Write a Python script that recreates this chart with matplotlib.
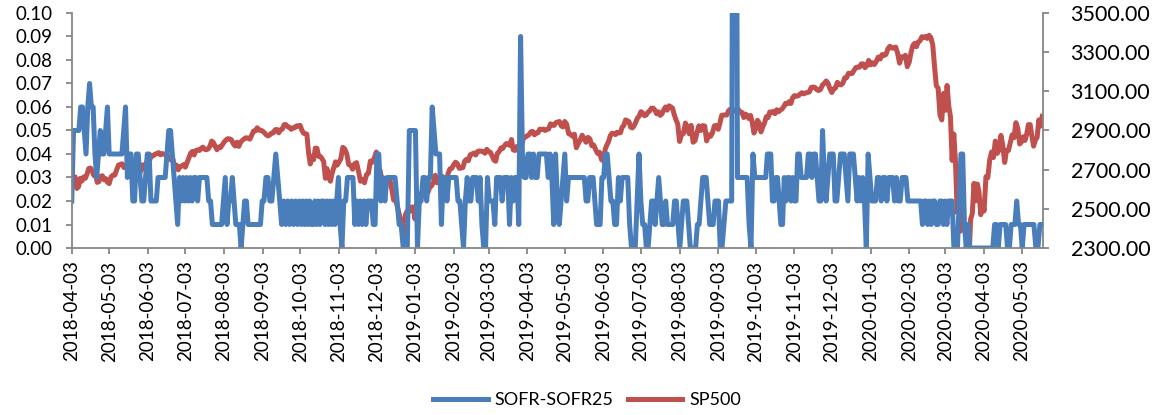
import matplotlib
matplotlib.use("Agg")
import matplotlib.pyplot as plt
import matplotlib.dates as mdates
from matplotlib.ticker import MultipleLocator, FixedLocator, FormatStrFormatter
import pandas as pd

plt.rcParams['font.family'] = ['Lato', 'DejaVu Sans']

# SOFR-SOFR25 spread, in basis points (0.01 = 1), one list per chunk of about a month
blue_starts = ['2018-04-03', '2018-05-03', '2018-06-04', '2018-07-04', '2018-08-04',
               '2018-09-04', '2018-10-04', '2018-11-04', '2018-12-05', '2019-01-05',
               '2019-02-05', '2019-03-05', '2019-04-05', '2019-05-06', '2019-06-06',
               '2019-07-06', '2019-08-06', '2019-09-06', '2019-10-07', '2019-11-07',
               '2019-12-07', '2020-01-07', '2020-02-08', '2020-03-07', '2020-04-07',
               '2020-05-08']
blue_chunks = [
    [2, 5, 5, 5, 5, 6, 6, 5, 4, 6, 7, 6, 6, 4, 3, 4, 5, 4, 4, 5, 6],
    [4, 4, 4, 4, 4, 4, 4, 4, 5, 6, 3, 4, 4, 2, 2, 4, 4, 3, 2, 2, 3, 4],
    [4, 2, 2, 2, 2, 3, 3, 3, 3, 3, 4, 5, 5, 4, 3, 2, 1, 3, 2, 3, 2],
    [3, 2, 3, 2, 3, 3, 2, 3, 3, 3, 3, 3, 2, 2, 1, 1, 1, 1, 1, 1, 2],
    [3, 1, 2, 2, 3, 2, 1, 1, 1, 0, 1, 2, 2, 1, 1, 1, 1, 1, 1, 1, 1, 2],
    [2, 3, 3, 2, 2, 3, 4, 3, 2, 1, 2, 1, 2, 1, 2, 1, 2, 1, 2],
    [1, 2, 1, 2, 1, 2, 1, 1, 2, 1, 2, 1, 2, 2, 1, 2, 1, 2, 1, 2, 1, 2, 3],
    [1, 0, 2, 2, 3, 3, 3, 3, 1, 2, 1, 2, 1, 2, 1, 2, 2, 2, 1, 1, 4],
    [4, 2, 3, 2, 3, 3, 3, 3, 3, 2, 1, 1, 0, 0, 0, 5, 5, 5, 5],
    [0, 2, 2, 3, 3, 2, 3, 3, 6, 5, 4, 4, 4, 1, 3, 3, 2, 3, 3, 3, 3],
    [3, 2, 2, 1, 0, 2, 3, 2, 2, 3, 3, 3, 2, 3, 1, 0, 0, 3, 2],
    [2, 2, 1, 3, 3, 3, 2, 3, 3, 3, 1, 3, 2, 3, 3, 1, 9, 4, 3, 3, 4],
    [4, 3, 4, 3, 3, 4, 4, 4, 4, 4, 3, 4, 3, 1, 4, 2, 1, 2, 3, 4, 2],
    [3, 3, 3, 3, 3, 3, 3, 3, 3, 3, 2, 2, 3, 3, 3, 2, 1, 1, 1, 3, 3, 4],
    [4, 3, 2, 2, 1, 1, 3, 2, 3, 3, 3, 3, 1, 0, 0, 0, 2, 4, 2, 1],
    [1, 0, 0, 1, 2, 2, 1, 2, 3, 2, 1, 1, 2, 1, 1, 1, 1, 2, 2, 1, 0, 1],
    [2, 2, 2, 1, 0, 0, 0, 0, 1, 1, 2, 3, 3, 3, 2, 1, 1, 1, 2, 2, 2, 0],
    [0, 1, 2, 2, 2, 2, 30, 30, 3, 3, 3, 3, 3, 3, 1, 0, 4, 3, 3, 3],
    [3, 3, 3, 3, 4, 4, 4, 2, 2, 3, 3, 2, 1, 1, 3, 2, 3, 3, 2, 3, 2, 2, 4],
    [4, 3, 3, 3, 3, 4, 4, 3, 4, 4, 3, 2, 2, 5, 3, 2, 3, 4, 4, 4, 2],
    [2, 3, 4, 4, 4, 3, 2, 4, 4, 4, 3, 2, 3, 2, 3, 2, 0, 4, 3, 2, 2],
    [2, 3, 3, 2, 3, 3, 2, 3, 3, 3, 2, 3, 2, 2, 3, 3, 3, 2, 2, 2, 2],
    [2, 2, 2, 2, 1, 2, 2, 1, 2, 1, 2, 2, 1, 1, 2, 2, 1, 2, 1, 2],
    [2, 2, 0, 0, 0, 2, 4, 4, 1, 0, 1, 0, 0, 0, 0, 0, 0, 0, 0, 0, 0, 0],
    [0, 0, 0, 1, 1, 0, 1, 1, 1, 1, 0, 0, 1, 1, 1, 2, 1, 1, 0, 1, 1],
    [1, 1, 1, 1, 0, 0, 1, 1],
]

# S&P 500 close, one list per month (3rd of month to the 2nd of the next)
sp_starts = ['2018-04-03', '2018-05-03', '2018-06-03', '2018-07-03', '2018-08-03',
             '2018-09-03', '2018-10-03', '2018-11-03', '2018-12-03', '2019-01-03',
             '2019-02-03', '2019-03-03', '2019-04-03', '2019-05-03', '2019-06-03',
             '2019-07-03', '2019-08-03', '2019-09-03', '2019-10-03', '2019-11-03',
             '2019-12-03', '2020-01-03', '2020-02-03', '2020-03-03', '2020-04-03',
             '2020-05-03']
sp_chunks = [
    [2614, 2645, 2663, 2604, 2613, 2656, 2642, 2663, 2656, 2678, 2706, 2708, 2693, 2670, 2670, 2635, 2639, 2666, 2669, 2648, 2654, 2636],
    [2629, 2663, 2672, 2672, 2697, 2723, 2727, 2730, 2711, 2722, 2720, 2712, 2733, 2725, 2733, 2727, 2721, 2690, 2724, 2705, 2735],
    [2747, 2749, 2772, 2771, 2779, 2782, 2787, 2776, 2782, 2780, 2774, 2762, 2767, 2749, 2755, 2717, 2723, 2699, 2716, 2718, 2726],
    [2713, 2736, 2760, 2784, 2793, 2775, 2798, 2801, 2798, 2809, 2815, 2804, 2802, 2806, 2820, 2846, 2838, 2819, 2802, 2816, 2813, 2827],
    [2840, 2851, 2858, 2857, 2853, 2833, 2821, 2840, 2819, 2840, 2850, 2858, 2863, 2861, 2856, 2875, 2897, 2898, 2914, 2901, 2902],
    [2896, 2888, 2878, 2872, 2878, 2887, 2888, 2904, 2905, 2888, 2904, 2907, 2930, 2930, 2919, 2916, 2906, 2914, 2914, 2924, 2923],
    [2926, 2902, 2886, 2884, 2881, 2786, 2729, 2768, 2751, 2810, 2809, 2768, 2768, 2756, 2741, 2656, 2705, 2659, 2641, 2682, 2712, 2740, 2723],
    [2738, 2755, 2814, 2806, 2781, 2726, 2722, 2702, 2730, 2736, 2690, 2641, 2649, 2633, 2674, 2682, 2744, 2738, 2760],
    [2790, 2700, 2696, 2633, 2637, 2636, 2651, 2650, 2600, 2545, 2546, 2507, 2467, 2417, 2351, 2468, 2489, 2486, 2507, 2510],
    [2448, 2532, 2550, 2574, 2585, 2596, 2596, 2583, 2610, 2617, 2636, 2671, 2633, 2639, 2642, 2665, 2644, 2641, 2681, 2704, 2707],
    [2725, 2738, 2731, 2707, 2708, 2710, 2744, 2753, 2746, 2776, 2780, 2785, 2775, 2793, 2796, 2794, 2793, 2784, 2804],
    [2792, 2789, 2771, 2749, 2743, 2784, 2792, 2811, 2808, 2822, 2833, 2832, 2824, 2854, 2801, 2798, 2818, 2806, 2815, 2834, 2867, 2867],
    [2873, 2879, 2893, 2895, 2878, 2888, 2888, 2907, 2905, 2907, 2900, 2905, 2908, 2934, 2927, 2926, 2940, 2943, 2946, 2924, 2918],
    [2946, 2932, 2884, 2880, 2871, 2881, 2812, 2834, 2851, 2876, 2860, 2840, 2865, 2857, 2822, 2826, 2802, 2783, 2789, 2752],
    [2744, 2804, 2826, 2843, 2873, 2886, 2885, 2879, 2891, 2887, 2889, 2917, 2926, 2954, 2950, 2945, 2917, 2913, 2924, 2942, 2964, 2973],
    [2996, 2990, 2976, 2979, 2993, 3000, 3014, 3014, 3004, 2985, 2995, 2977, 2985, 3005, 3020, 3004, 3026, 3021, 3014, 2980, 2954, 2932],
    [2844, 2881, 2884, 2938, 2919, 2883, 2926, 2840, 2848, 2889, 2924, 2900, 2925, 2923, 2847, 2878, 2870, 2888, 2924, 2926],
    [2906, 2938, 2977, 2979, 2979, 2979, 3000, 3009, 3007, 2998, 3006, 3006, 3006, 2992, 2992, 2966, 2984, 2977, 2961, 2977, 2940, 2887],
    [2910, 2952, 2938, 2893, 2919, 2938, 2970, 2966, 2995, 2990, 2998, 2986, 3006, 2996, 3004, 3010, 3023, 3039, 3036, 3047, 3038, 3067],
    [3078, 3075, 3077, 3085, 3093, 3087, 3092, 3094, 3097, 3120, 3122, 3120, 3108, 3104, 3110, 3133, 3140, 3153, 3141, 3113],
    [3094, 3113, 3117, 3146, 3135, 3133, 3142, 3169, 3169, 3192, 3192, 3191, 3206, 3221, 3224, 3223, 3240, 3240, 3221, 3231, 3258],
    [3235, 3246, 3237, 3253, 3275, 3265, 3288, 3283, 3289, 3317, 3330, 3321, 3321, 3326, 3295, 3244, 3276, 3273, 3284, 3226],
    [3249, 3298, 3334, 3345, 3328, 3352, 3358, 3379, 3374, 3380, 3370, 3386, 3373, 3338, 3226, 3128, 3116, 2979, 2954, 3090],
    [3003, 3130, 3024, 2972, 2747, 2882, 2741, 2481, 2711, 2386, 2529, 2398, 2409, 2305, 2237, 2447, 2476, 2630, 2541, 2627, 2585, 2470, 2527],
    [2489, 2664, 2659, 2750, 2790, 2762, 2846, 2783, 2800, 2875, 2823, 2737, 2799, 2798, 2837, 2878, 2863, 2940, 2912, 2831],
    [2842, 2868, 2849, 2882, 2930, 2930, 2870, 2820, 2852, 2864, 2954, 2923, 2972],
]
end_date = '2020-05-21'
sp_ticks = [2300, 2500, 2700, 2900, 3100, 3300, 3500]


def to_series(starts, chunks, end):
    dates, vals = [], []
    bounds = list(starts) + [end]
    for i, chunk in enumerate(chunks):
        d = pd.date_range(bounds[i], bounds[i + 1], periods=len(chunk) + 1)[:-1]
        dates.extend(d)
        vals.extend(chunk)
    return pd.Series(vals, index=pd.DatetimeIndex(dates))


sofr = to_series(blue_starts, blue_chunks, end_date) / 100.0
spx = to_series(sp_starts, sp_chunks, end_date)

grey = '#868686'
fig = plt.figure(figsize=(11.63, 4.15), dpi=100)
ax = fig.add_axes([0.0617, 0.4024, 0.8349, 0.5663])
ax2 = ax.twinx()

l2, = ax2.plot(spx.index, spx.values, color='#C0504D', lw=3.6, solid_joinstyle='round', label='SP500')
l1, = ax.plot(sofr.index, sofr.values, color='#4A7EBB', lw=3.6, solid_joinstyle='round', label='SOFR-SOFR25')
ax.set_zorder(ax2.get_zorder() + 1)
ax.patch.set_visible(False)

ax.set_ylim(0, 0.10)
ax.yaxis.set_major_locator(MultipleLocator(0.01))
ax.yaxis.set_major_formatter(FormatStrFormatter('%.2f'))
ax2.set_ylim(2300, 3500)
ax2.yaxis.set_major_locator(FixedLocator(sp_ticks))
ax2.yaxis.set_major_formatter(FormatStrFormatter('%.2f'))

ax.set_xlim(pd.Timestamp('2018-04-03'), pd.Timestamp('2020-05-20'))
ax.xaxis.set_major_locator(mdates.MonthLocator(bymonthday=3))
ax.xaxis.set_major_formatter(mdates.DateFormatter('%Y-%m-%d'))
for lab in ax.get_xticklabels():
    lab.set_rotation(90)

for a in (ax, ax2):
    a.spines['top'].set_visible(False)
    for s in ('left', 'right', 'bottom'):
        a.spines[s].set_color(grey)
        a.spines[s].set_linewidth(1.3)
    a.tick_params(colors=grey, labelcolor='black', length=4, width=1.3)
ax.tick_params(axis='y', labelsize=13.5, pad=10)
ax.tick_params(axis='x', labelsize=13.5, pad=5)
ax2.tick_params(axis='y', labelsize=15.5, pad=16)
ax.spines['right'].set_visible(False)
ax2.spines['left'].set_visible(False)
ax2.spines['bottom'].set_visible(False)

fig.legend([l1, l2], ['SOFR-SOFR25', 'SP500'], loc='center', bbox_to_anchor=(0.505, 0.035),
           ncol=2, frameon=False, fontsize=13, handlelength=3.0, columnspacing=0.8,
           handletextpad=0.4)

fig.savefig('out.png', dpi=100)
